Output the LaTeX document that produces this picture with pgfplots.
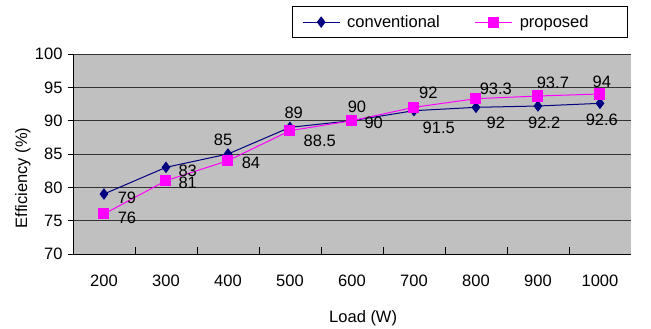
\documentclass[border=0pt]{standalone}
\usepackage{fontspec}
\setmainfont{Liberation Sans}
\usepackage{pgfplots}
\pgfplotsset{compat=1.18}
\definecolor{bg}{HTML}{C0C0C0}
\definecolor{conv}{HTML}{000080}
\definecolor{prop}{HTML}{FF00FF}
\begin{document}
\begin{tikzpicture}[font=\fontsize{16.5}{20}\selectfont]
\useasboundingbox (-73pt,-75pt) rectangle (578pt,254pt);
\begin{axis}[
  at={(0pt,0pt)}, anchor=south west,
  scale only axis, width=558pt, height=200pt,
  xmin=-0.5, xmax=8.5, ymin=70, ymax=100,
  axis background/.style={fill=bg},
  axis x line*=bottom, axis y line*=left,
  axis line style={black, line width=0.8pt},
  xtick={0,1,2,3,4,5,6,7,8},
  xticklabels={200,300,400,500,600,700,800,900,1000},
  minor xtick={0.5,1.5,2.5,3.5,4.5,5.5,6.5,7.5},
  ytick={70,75,80,85,90,95,100},
  tick align=outside,
  major tick length=5pt, minor tick length=7pt,
  major x tick style={draw=none},
  minor x tick style={black, line width=0.8pt, yshift=7pt},
  major y tick style={black, line width=0.8pt},
  ymajorgrids, major grid style={black!80, line width=0.9pt},
  /pgf/number format/assume math mode=true,
  xticklabel style={yshift=-12pt},
  yticklabel style={xshift=-2pt},
  xlabel={Load (W)}, ylabel={Efficiency (\%)},
  xlabel style={at={(axis description cs:0.52,-0.32)}, anchor=center},
  ylabel style={at={(axis description cs:-0.09,0.38)}, anchor=center, rotate=0},
  legend columns=2,
  legend style={at={(axis description cs:0.995,1.24)}, anchor=north east,
    draw=black, line width=0.8pt, fill=white, inner xsep=10pt, inner ysep=7pt,
    /tikz/every odd column/.append style={column sep=5pt},
    /tikz/every even column/.append style={column sep=33pt},
    cells={anchor=west}},
  legend image code/.code={\draw[mark repeat=2,mark phase=2] plot coordinates {(0cm,0cm) (0.65cm,0cm) (1.3cm,0cm)};},
]
\draw[gray, line width=0.8pt] (rel axis cs:1,0) -- (rel axis cs:1,1);
\addplot[conv, line width=1pt, mark=diamond*, mark size=5pt, mark options={fill=conv, draw=conv}]
  coordinates {(0,79) (1,83) (2,85) (3,89) (4,90) (5,91.5) (6,92) (7,92.2) (8,92.6)};
\addlegendentry{conventional}
\addplot[prop, line width=1pt, mark=square*, mark size=5pt, mark options={fill=prop, draw=prop}]
  coordinates {(0,76) (1,81) (2,84) (3,88.5) (4,90) (5,92) (6,93.3) (7,93.7) (8,94)};
\addlegendentry{\makebox[96pt][l]{proposed}}
% data labels
\node at (axis cs:0.37,78.4) {79};
\node at (axis cs:1.35,82.45) {83};
\node at (axis cs:1.92,87.1) {85};
\node at (axis cs:3.06,91.15) {89};
\node at (axis cs:4.35,89.65) {90};
\node at (axis cs:5.40,88.9) {91.5};
\node at (axis cs:6.32,89.65) {92};
\node at (axis cs:7.10,89.65) {92.2};
\node at (axis cs:8.03,90.1) {92.6};
\node at (axis cs:0.37,75.4) {76};
\node at (axis cs:1.35,80.65) {81};
\node at (axis cs:2.37,83.65) {84};
\node at (axis cs:3.48,86.95) {88.5};
\node at (axis cs:4.08,92.05) {90};
\node at (axis cs:5.23,94.15) {92};
\node at (axis cs:6.32,94.75) {93.3};
\node at (axis cs:7.24,95.65) {93.7};
\node at (axis cs:8.03,95.8) {94};
\end{axis}
\end{tikzpicture}
\end{document}
